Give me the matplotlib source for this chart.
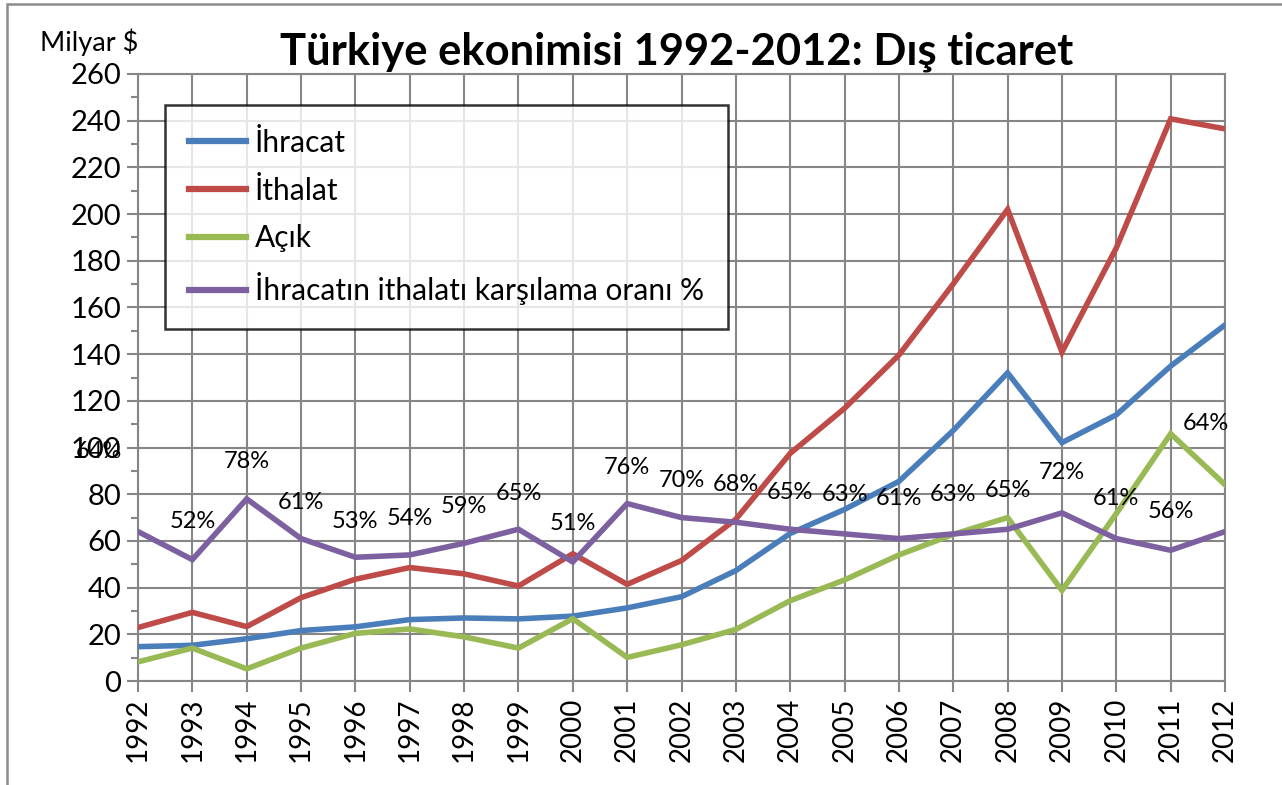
import matplotlib
matplotlib.use("Agg")
import matplotlib.pyplot as plt
from matplotlib.patches import Rectangle

plt.rcParams["font.family"] = ["Lato", "DejaVu Sans"]

years = list(range(1992, 2013))
ihracat = [14.7, 15.3, 18.1, 21.6, 23.2, 26.3, 27.0, 26.6, 27.8, 31.3, 36.1,
           47.3, 63.2, 73.5, 85.5, 107.3, 132.0, 102.1, 114.0, 134.9, 152.5]
ithalat = [22.9, 29.4, 23.3, 35.7, 43.6, 48.6, 45.9, 40.7, 54.5, 41.4, 51.6,
           69.3, 97.5, 116.8, 139.6, 170.1, 202.0, 140.9, 185.5, 240.8, 236.5]
acik = [8.2, 14.1, 5.2, 14.1, 20.4, 22.3, 18.9, 14.1, 26.7, 10.1, 15.5,
        22.1, 34.4, 43.3, 54.0, 62.8, 70.0, 38.8, 71.7, 105.9, 84.1]
oran = [64, 52, 78, 61, 53, 54, 59, 65, 51, 76, 70,
        68, 65, 63, 61, 63, 65, 72, 61, 56, 64]

labels = ["İhracat", "İthalat", "Açık", "İhracatın ithalatı karşılama oranı %"]
colors = ["#4A7EBB", "#BE4B48", "#98B954", "#7D60A0"]

# label offsets in pixels (dx, dy), screen y down
lab_dx = [-39] + [0] * 19 + [-19]
lab_dy = [-80, -38, -37, -36, -36, -36, -37, -36, -38, -36, -37,
          -38, -37, -39, -40, -39, -39, -40, -40, -39, -108]

W, H = 1282, 785
fig = plt.figure(figsize=(W / 100, H / 100), dpi=100)
ax = fig.add_axes([138 / W, 1 - 681 / H, (1225 - 138) / W, (681 - 74) / H])

grid_c = "#868686"
for i, series in enumerate([ihracat, ithalat, acik, oran]):
    ax.plot(years, series, color=colors[i], lw=4, label=labels[i],
            solid_joinstyle="miter", zorder=3)

for x, v, dx, dy in zip(years, oran, lab_dx, lab_dy):
    ax.annotate(f"{v}%", (x, v), xytext=(dx * 0.72, -dy * 0.72),
                textcoords="offset points", ha="center", va="center",
                fontsize=17, zorder=4, annotation_clip=False)

ax.set_xlim(1992, 2012)
ax.set_ylim(0, 260)
ax.set_xticks(years)
ax.set_xticklabels([str(y) for y in years], rotation=90, fontsize=20)
ax.set_yticks(range(0, 261, 20))
ax.set_yticks(range(10, 260, 20), minor=True)
ax.tick_params(axis="y", labelsize=21, length=8, width=1.5, color=grid_c, pad=4)
ax.tick_params(axis="y", which="minor", length=5, width=1.5, color=grid_c)
ax.tick_params(axis="x", length=8, width=1.5, color=grid_c, pad=4)
ax.grid(True, color=grid_c, lw=1.5, zorder=0)
ax.set_axisbelow(True)
for s in ax.spines.values():
    s.set_color(grid_c)
    s.set_linewidth(1.5)

leg = ax.legend(loc="upper left", bbox_to_anchor=(165 / W, 1 - 105 / H),
                bbox_transform=fig.transFigure, borderaxespad=0, fontsize=21.5,
                frameon=True, fancybox=False, handlelength=1.9,
                handletextpad=0.3, labelspacing=0.66, borderpad=0.8)
leg.get_frame().set_edgecolor("black")
leg.get_frame().set_linewidth(1.8)
leg.set_zorder(5)
for h in leg.get_lines():
    h.set_linewidth(4.5)

fig.text(677 / W, 1 - 52 / H, "Türkiye ekonimisi 1992-2012: Dış ticaret",
         ha="center", va="center", fontsize=31.3, fontweight="bold")
fig.text(40 / W, 1 - 42 / H, "Milyar $", ha="left", va="center", fontsize=19.5)

fig.patches.append(Rectangle((7 / W, -0.1), 1.2, 1 - 4 / H + 0.1,
                             transform=fig.transFigure, fill=False,
                             edgecolor="#8c8c8c", lw=1.8))

fig.savefig("out.png", dpi=100)
